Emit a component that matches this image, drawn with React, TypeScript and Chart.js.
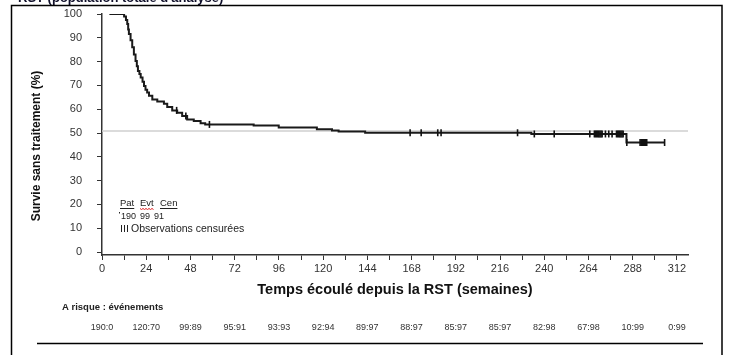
import React, { useEffect, useRef } from 'react';
import { Chart, registerables } from 'chart.js';

Chart.register(...registerables);

const chartTitle = "RST (population totale d'analyse)";
const yAxisTitle = 'Survie sans traitement (%)';
const xAxisTitle = 'Temps écoulé depuis la RST (semaines)';
const legendHeaders = ['Pat', 'Evt', 'Cen'];
const legendCounts = ['190', '99', '91'];
const legendCensorLabel = 'Observations censurées';
const atRiskTitle = 'A risque : événements';

const kmTimes = [4, 11, 12, 13, 13.7, 14.2, 14.6, 15.5, 16.4, 17.3, 18.2, 18.9, 19.5, 20.3, 21, 22, 22.8, 23.6, 24.5, 25.5, 27.3, 30, 33.6, 35.4, 38.1, 40.8, 43.5, 46.2, 49.8, 53.5, 56, 82.3, 95.9, 116.6, 124.8, 128.4, 142.8, 233, 284.6, 305.3];
const kmSurvival = [100, 100, 99, 97.5, 95.8, 93.5, 91.6, 89, 86, 83, 80.3, 78, 76, 74.8, 73.3, 71.5, 69.8, 68.2, 67, 65.6, 64.1, 63.2, 62.3, 60.9, 59.5, 58.5, 57.1, 55.7, 55, 54.1, 53.6, 53.2, 52.3, 51.6, 51.0, 50.6, 50.1, 49.6, 46.0, 46.0];

const censorTimes = [40.5, 45.5, 58.3, 167.2, 173.2, 182.2, 184.0, 225.5, 234.6, 245.4, 264.7,
  267.2, 267.8, 268.4, 269.0, 269.6, 270.2, 270.8, 271.4,
  273.2, 275.0, 276.8,
  279.2, 279.8, 280.4, 281.0, 281.6, 282.2, 282.8,
  284.8,
  292.0, 292.6, 293.2, 293.8, 294.4, 295.0, 295.6,
  305.3];

const medianLevel = 50.8;
const xMax = 318;
const xTickValues = [0, 24, 48, 72, 96, 120, 144, 168, 192, 216, 240, 264, 288, 312];
const atRiskLabels = ['190:0', '120:70', '99:89', '95:91', '93:93', '92:94', '89:97', '88:97', '85:97', '85:97', '82:98', '67:98', '10:99', '0:99'];
const yTickValues = [0, 10, 20, 30, 40, 50, 60, 70, 80, 90, 100];

const survivalAt = (t: number) => {
  let s = kmSurvival[0];
  for (let i = 0; i < kmTimes.length; i++) if (kmTimes[i] <= t) s = kmSurvival[i];
  return s;
};

const FONT = "'Liberation Sans', Arial, sans-serif";

export default function App() {
  const ref = useRef<HTMLCanvasElement>(null);

  useEffect(() => {
    const canvas = ref.current!;
    const overlay = {
      id: 'overlay',
      afterDraw(chart: any) {
        const ctx = chart.ctx as CanvasRenderingContext2D;
        const xs = chart.scales.x;
        ctx.save();
        ctx.fillStyle = '#10102a';
        ctx.font = `bold 13px ${FONT}`;
        ctx.textAlign = 'left';
        ctx.textBaseline = 'alphabetic';
        ctx.fillText(chartTitle, 18, 2);
        ctx.strokeStyle = '#000';
        ctx.lineWidth = 1.5;
        ctx.beginPath();
        ctx.moveTo(11.5, 355);
        ctx.lineTo(11.5, 5.5);
        ctx.lineTo(722, 5.5);
        ctx.lineTo(722, 355);
        ctx.stroke();
        ctx.beginPath();
        ctx.moveTo(37, 343.5);
        ctx.lineTo(703, 343.5);
        ctx.stroke();

        // y axis title
        ctx.save();
        ctx.translate(37, 146);
        ctx.rotate(-Math.PI / 2);
        ctx.fillStyle = '#111';
        ctx.font = `bold 12px ${FONT}`;
        ctx.textAlign = 'center';
        ctx.textBaseline = 'middle';
        ctx.fillText(yAxisTitle, 0, 0);
        ctx.restore();

        ctx.fillStyle = '#222';
        ctx.font = `9.5px ${FONT}`;
        const hx = [120, 140, 160];
        legendHeaders.forEach((h, i) => {
          ctx.fillText(h, hx[i], 206);
          const w = ctx.measureText(h).width;
          if (i === 1) {
            ctx.strokeStyle = '#e02020';
            ctx.lineWidth = 1;
            ctx.beginPath();
            for (let k = 0; k <= w; k += 1.5) {
              const yy = 208.5 + ((Math.round(k / 1.5) % 2) ? 1 : 0);
              if (k === 0) ctx.moveTo(hx[i] + k, yy); else ctx.lineTo(hx[i] + k, yy);
            }
            ctx.stroke();
          } else {
            ctx.strokeStyle = '#222';
            ctx.lineWidth = 1;
            ctx.beginPath();
            ctx.moveTo(hx[i], 208.5);
            ctx.lineTo(hx[i] + w, 208.5);
            ctx.stroke();
          }
        });
        const cx = [121, 140, 154];
        ctx.fillStyle = '#222';
        ctx.font = `9px ${FONT}`;
        legendCounts.forEach((c, i) => ctx.fillText(c, cx[i], 219));
        ctx.fillRect(119, 212, 1, 1.5);
        ctx.strokeStyle = '#222';
        ctx.lineWidth = 1;
        ctx.beginPath();
        [121.5, 124.5, 127.5].forEach((x) => {
          ctx.moveTo(x, 225);
          ctx.lineTo(x, 232);
        });
        ctx.stroke();
        ctx.font = `10.5px ${FONT}`;
        ctx.fillText(legendCensorLabel, 131, 232);

        ctx.fillStyle = '#222';
        ctx.font = `bold 9.5px ${FONT}`;
        ctx.fillText(atRiskTitle, 62, 310);
        ctx.font = `9px ${FONT}`;
        ctx.textAlign = 'center';
        ctx.fillStyle = '#333';
        atRiskLabels.forEach((lab, i) => {
          ctx.fillText(lab, xs.getPixelForValue(xTickValues[i]), 330);
        });
        ctx.restore();
      },
    };

    const chart = new Chart(canvas, {
      type: 'scatter',
      data: {
        datasets: [
          {
            data: censorTimes.map((t) => ({ x: t, y: survivalAt(t) })),
            showLine: false,
            pointStyle: 'line',
            rotation: 90,
            pointRadius: 3.5,
            pointBorderWidth: 1.6,
            borderColor: '#111',
            backgroundColor: '#111',
            order: 0,
          } as any,
          {
            data: kmTimes.map((t, i) => ({ x: t, y: kmSurvival[i] })),
            showLine: true,
            stepped: 'before',
            pointRadius: 0,
            borderColor: '#1a1a1a',
            borderWidth: 2,
            fill: false,
            order: 1,
          } as any,
          {
            data: [{ x: 0, y: medianLevel }, { x: xMax, y: medianLevel }],
            showLine: true,
            pointRadius: 0,
            borderColor: '#cfcfcf',
            borderWidth: 1.5,
            fill: false,
            order: 2,
          } as any,
        ],
      },
      options: {
        animation: false,
        responsive: false,
        events: [],
        layout: { padding: { left: 0, top: 14, right: 41, bottom: 55 } },
        plugins: { legend: { display: false }, tooltip: { enabled: false }, title: { display: false } },
        scales: {
          x: {
            type: 'linear',
            min: 0,
            max: xMax,
            afterBuildTicks: (scale: any) => {
              const t = [];
              for (let v = 0; v <= 312; v += 12) t.push({ value: v });
              scale.ticks = t;
            },
            afterFit: (scale: any) => { scale.height = 45; },
            grid: { display: true, drawOnChartArea: false, drawTicks: true, tickLength: 5, color: '#333', lineWidth: 1 },
            border: { display: true, color: '#333', width: 1.5 },
            ticks: {
              autoSkip: false,
              maxRotation: 0,
              padding: 2,
              color: '#333',
              font: { family: FONT, size: 11 },
              callback: (v: any) => (xTickValues.includes(Number(v)) ? String(v) : ''),
            },
            title: { display: true, text: xAxisTitle, color: '#111', font: { family: FONT, size: 14.5, weight: 'bold' }, padding: { top: 0, bottom: 1 } },
          },
          y: {
            type: 'linear',
            min: -1.26,
            max: 100,
            afterBuildTicks: (scale: any) => { scale.ticks = yTickValues.map((v) => ({ value: v })); },
            afterFit: (scale: any) => {
              scale.width = 102;
              scale.paddingTop = 7;
              scale.paddingBottom = 7;
            },
            grid: { display: true, drawOnChartArea: false, drawTicks: true, tickLength: 5, color: '#333', lineWidth: 1 },
            border: { display: true, color: '#333', width: 1.5 },
            ticks: { padding: 15, color: '#333', font: { family: FONT, size: 11 } },
            title: { display: false },
          },
        },
      } as any,
      plugins: [overlay],
    });
    return () => chart.destroy();
  }, []);

  return (
    <div style={{ position: 'absolute', left: 0, top: 0, width: 729, height: 355, background: '#fff' }}>
      <canvas ref={ref} width={729} height={355} style={{ display: 'block', width: 729, height: 355 }} />
    </div>
  );
}
